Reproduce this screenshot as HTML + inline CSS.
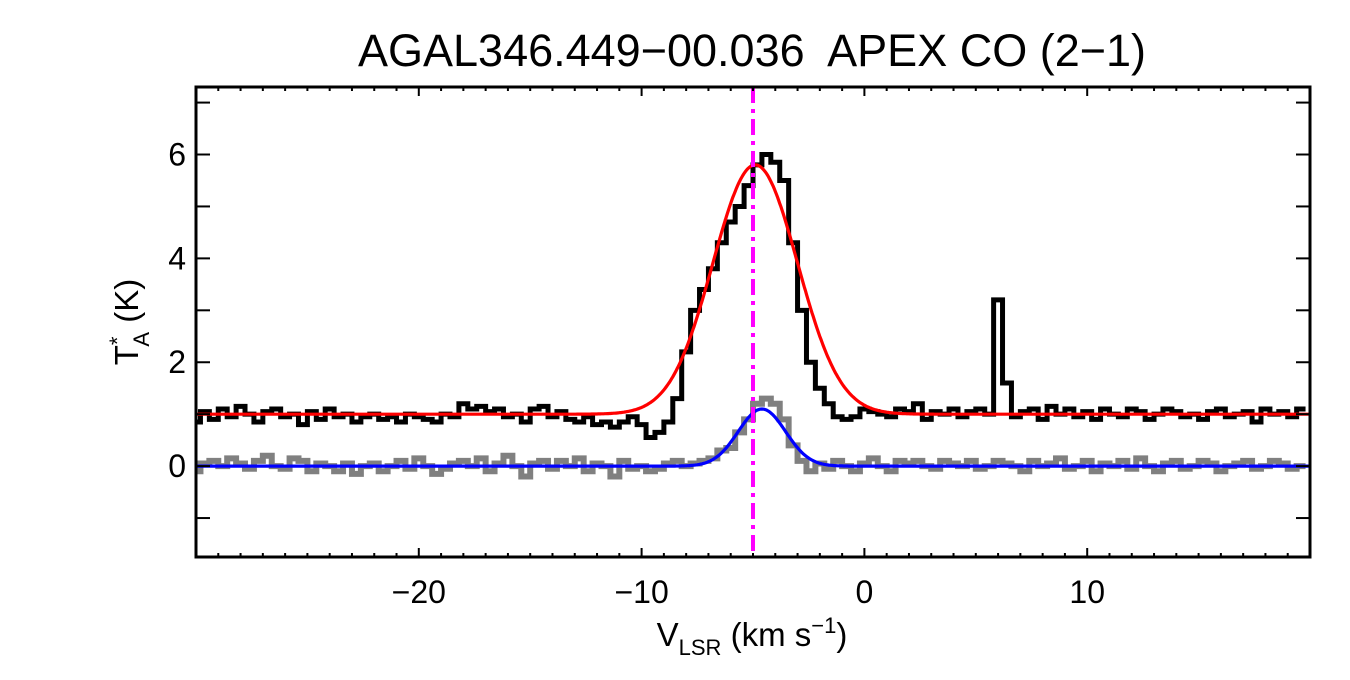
<!DOCTYPE html>
<html><head><meta charset="utf-8"><style>
html,body{margin:0;padding:0;background:#fff;}
svg text{font-family:"Liberation Sans",sans-serif;fill:#000;}
</style></head><body>
<svg id="chart" width="1350" height="675" viewBox="0 0 1350 675" xmlns="http://www.w3.org/2000/svg">
<text x="752" y="66" font-size="45" text-anchor="middle" xml:space="preserve">AGAL346.449−00.036  APEX CO (2−1)</text>
<g id="plot"></g>
<g id="axes"></g>
<text transform="translate(138,322) rotate(-90)" font-size="33" text-anchor="middle">T<tspan font-size="22" dy="-13">*</tspan><tspan font-size="22" dx="-10" dy="24">A</tspan><tspan dy="-11"> (K)</tspan></text>
<text x="752" y="646" font-size="33" text-anchor="middle">V<tspan font-size="22" dy="9">LSR</tspan><tspan dy="-9"> (km s</tspan><tspan font-size="22" dy="-13">−1</tspan><tspan dy="13">)</tspan></text>
</svg>
<script>
const vStart = -30, vWidth = 0.4;
const blackSpec = [0.85,1.05,0.9,1.1,0.95,1.15,1.0,0.85,1.05,1.1,
0.95,1.0,0.8,1.05,0.9,1.1,0.95,1.0,0.85,0.95,
1.0,0.9,0.95,0.85,1.0,0.95,0.9,0.85,1.0,0.95,
1.2,1.1,1.15,1.05,1.1,0.95,1.0,0.85,1.1,1.15,
0.95,1.05,0.9,0.85,0.95,0.8,0.85,0.75,0.85,0.95,
0.8,0.55,0.65,0.85,1.3,2.2,3.0,3.4,3.8,4.3,4.7,5.0,5.4,
5.8,6.0,5.85,5.5,4.3,3.0,2.0,1.5,1.2,0.95,0.9,0.95,
1.1,1.05,1.0,0.95,1.1,1.05,1.2,0.9,1.05,1.0,1.1,0.95,1.05,1.1,1.0,
3.2,1.6,
0.95,1.05,1.1,0.9,1.15,1.0,1.1,0.95,1.05,0.9,
1.1,1.0,0.95,1.1,1.05,0.9,1.0,1.1,1.05,0.95,1.0,0.9,1.05,1.1,0.95,1.0,1.05,0.85,1.1,1.0,1.05,0.95,1.1];
const graySpec = [-0.1,0.05,0.1,0.0,0.15,0.05,-0.05,0.1,0.2,0.0,
-0.05,0.15,0.1,-0.1,0.05,0.0,-0.1,0.05,-0.15,0.0,
0.05,-0.1,0.0,0.1,-0.05,0.15,0.0,-0.15,-0.05,0.05,
0.1,0.0,0.15,-0.1,0.05,0.2,0.0,-0.2,0.05,0.1,
-0.05,0.1,0.0,0.15,-0.1,0.05,0.0,-0.2,0.1,-0.05,
0.0,-0.1,-0.05,0.05,0.1,0.0,0.05,0.1,0.15,0.3,0.35,0.65,0.9,
1.2,1.3,1.2,0.9,0.4,0.1,-0.1,0.05,-0.05,0.1,0.0,-0.1,
0.05,0.15,0.0,-0.1,0.1,0.05,0.1,0.0,-0.05,0.1,0.05,0.0,0.1,-0.05,0.0,
0.1,0.05,
0.0,-0.1,0.1,0.0,0.05,0.15,-0.05,0.0,0.1,-0.1,
0.05,0.0,0.1,-0.05,0.15,0.0,-0.1,0.05,0.1,-0.05,0.0,0.1,0.05,-0.1,0.0,0.05,0.1,-0.05,0.0,0.1,0.05,-0.05,0.0];
const redFit = [1.0, 4.8, -4.9, 1.9];   // offset, amplitude, center, sigma
const blueFit = [0.0, 1.1, -4.6, 1.06];
const vMark = -5.0;
const xTicks = [-20,-10,0,10];
const yTicks = [0,2,4,6];
const xRange = [-30,20], yRange = [-1.75,7.3];

const L=196,R=1310,T=87,B=557;
const X=v=>L+(v-xRange[0])/(xRange[1]-xRange[0])*(R-L);
const Y=t=>B-(t-yRange[0])/(yRange[1]-yRange[0])*(B-T);
const NS='http://www.w3.org/2000/svg';
const plot=document.getElementById('plot'), axes=document.getElementById('axes');
function mk(tag,attrs,parent){const e=document.createElementNS(NS,tag);for(const k in attrs)e.setAttribute(k,attrs[k]);parent.appendChild(e);return e;}
function stepPath(arr){let d='';arr.forEach((t,i)=>{const x0=X(Math.max(xRange[0],vStart+i*vWidth-vWidth/2)),x1=X(Math.min(xRange[1],vStart+i*vWidth+vWidth/2));d+=(i?'L':'M')+x0+','+Y(t)+'L'+x1+','+Y(t);});return d;}
function gaussPath(p){let d='';for(let v=xRange[0];v<=xRange[1];v+=0.05){const t=p[0]+p[1]*Math.exp(-Math.pow(v-p[2],2)/(2*p[3]*p[3]));d+=(d?'L':'M')+X(v).toFixed(1)+','+Y(t).toFixed(1);}return d;}
const g=mk('path',{d:stepPath(graySpec),fill:'none',stroke:'#808080','stroke-width':6},plot);


const b=mk('path',{d:stepPath(blackSpec),fill:'none',stroke:'#000','stroke-width':5},plot);


const rf=mk('path',{d:gaussPath(redFit),fill:'none',stroke:'#ff0000','stroke-width':3.2},plot);


const bf=mk('path',{d:gaussPath(blueFit),fill:'none',stroke:'#0000ff','stroke-width':3.2},plot);


const vm=mk('line',{x1:X(vMark),x2:X(vMark),y1:T,y2:B,stroke:'#ff00ff','stroke-width':4,'stroke-dasharray':'16,6,4,6'},plot);


const fr=mk('rect',{x:L,y:T,width:R-L,height:B-T,fill:'none',stroke:'#000','stroke-width':3},axes);


for(let v=-29;v<=19;v+=1){const major=xTicks.includes(v);const len=major?9:4;
 mk('line',{x1:X(v),x2:X(v),y1:B,y2:B-len,stroke:'#000','stroke-width':2},axes);
 mk('line',{x1:X(v),x2:X(v),y1:T,y2:T+len,stroke:'#000','stroke-width':2},axes);}
xTicks.forEach(v=>{const t=mk('text',{x:X(v),y:B+46,'font-size':32,'text-anchor':'middle'},axes);t.textContent=(v<0?'−':'')+Math.abs(v);
 
 });
for(let y=-1;y<=7;y+=1){const len=14;
 mk('line',{x1:L,x2:L+len,y1:Y(y),y2:Y(y),stroke:'#000','stroke-width':2},axes);
 mk('line',{x1:R,x2:R-len,y1:Y(y),y2:Y(y),stroke:'#000','stroke-width':2},axes);}
yTicks.forEach(y=>{const t=mk('text',{x:L-10,y:Y(y)+11,'font-size':32,'text-anchor':'end'},axes);t.textContent=y;
 
 });
</script>
</body></html>
